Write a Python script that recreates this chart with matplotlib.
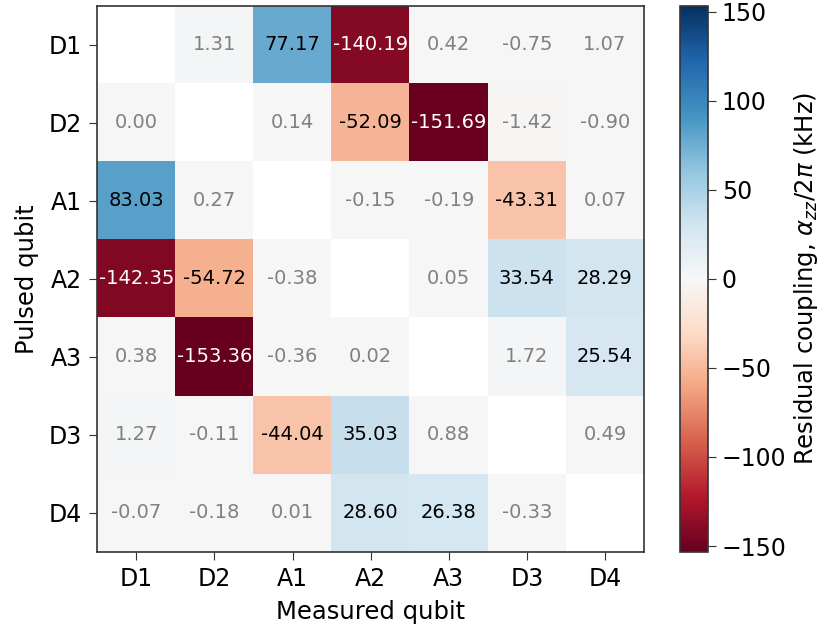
import numpy as np
import matplotlib
matplotlib.use("Agg")
import matplotlib.pyplot as plt

qubits = ['D1', 'D2', 'A1', 'A2', 'A3', 'D3', 'D4']
nan = np.nan
# rows: pulsed qubit, columns: measured qubit
zz = np.array([
    [nan, 1.31, 77.17, -140.19, 0.42, -0.75, 1.07],
    [0.00, nan, 0.14, -52.09, -151.69, -1.42, -0.90],
    [83.03, 0.27, nan, -0.15, -0.19, -43.31, 0.07],
    [-142.35, -54.72, -0.38, nan, 0.05, 33.54, 28.29],
    [0.38, -153.36, -0.36, 0.02, nan, 1.72, 25.54],
    [1.27, -0.11, -44.04, 35.03, 0.88, nan, 0.49],
    [-0.07, -0.18, 0.01, 28.60, 26.38, -0.33, nan],
])

vlim = np.nanmax(np.abs(zz))

plt.rcParams['axes.edgecolor'] = '#333333'
plt.rcParams['axes.linewidth'] = 1.2

fig = plt.figure(figsize=(8.31, 6.28), dpi=100)
ax = fig.add_axes([0.117, 0.121, 0.658, 0.870])
cax = fig.add_axes([0.818, 0.121, 0.034, 0.870])

im = ax.imshow(zz, cmap='RdBu', vmin=-vlim, vmax=vlim, aspect='auto')

for i in range(len(qubits)):
    for j in range(len(qubits)):
        v = zz[i, j]
        if np.isnan(v):
            continue
        if abs(v) < 5:
            c = 'gray'
        elif abs(v) > 100:
            c = 'white'
        else:
            c = 'black'
        ax.text(j, i, f'{v:.2f}', ha='center', va='center', color=c, fontsize=14)

ax.set_xticks(range(len(qubits)))
ax.set_yticks(range(len(qubits)))
ax.set_xticklabels(qubits, fontsize=17)
ax.set_yticklabels(qubits, fontsize=17)
ax.tick_params(length=6, pad=5, color='#333333')
ax.set_xlabel('Measured qubit', fontsize=17.5, labelpad=6)
ax.set_ylabel('Pulsed qubit', fontsize=17.5, labelpad=7)

cb = fig.colorbar(im, cax=cax)
cb.set_ticks([-150, -100, -50, 0, 50, 100, 150])
cb.ax.tick_params(labelsize=17, length=6, pad=4, color='#333333')
cb.set_label(r'Residual coupling, $\alpha_{zz}/2\pi$ (kHz)', fontsize=17.5)

fig.savefig('out.png', dpi=100)
